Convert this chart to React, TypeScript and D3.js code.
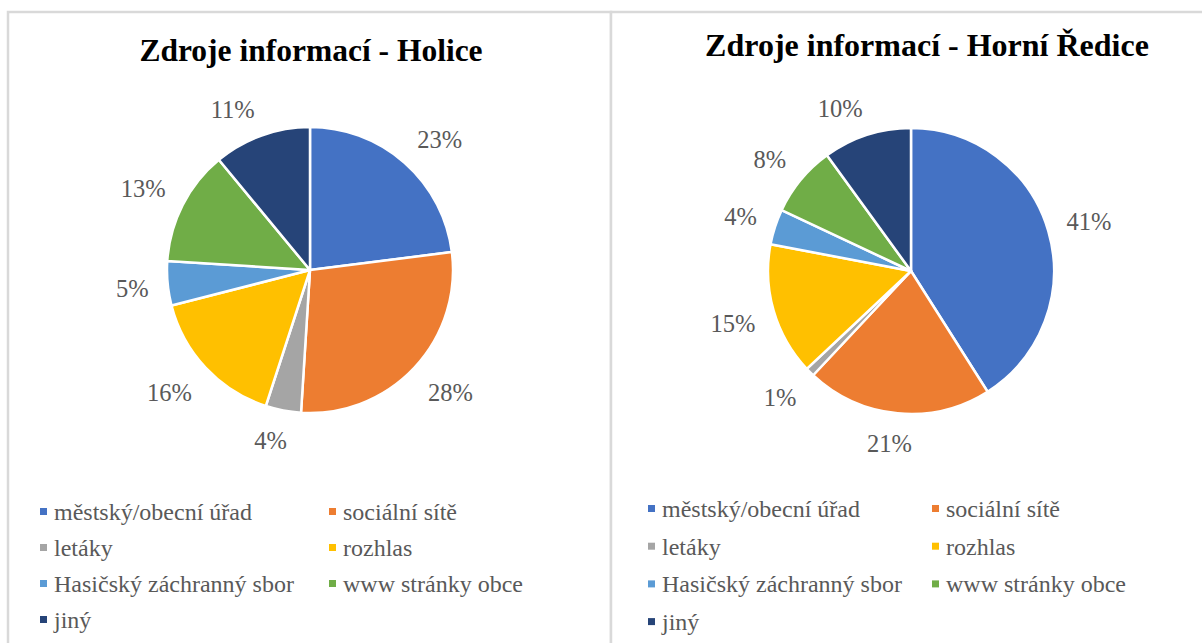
import * as d3 from 'd3'
import * as React from 'react'

// Categories shared by both charts
const categories: string[] = [
  'městský/obecní úřad',
  'sociální sítě',
  'letáky',
  'rozhlas',
  'Hasičský záchranný sbor',
  'www stránky obce',
  'jiný',
]

// Series values (percent)
const holiceValues: number[] = [23, 28, 4, 16, 5, 13, 11]
const horniRediceValues: number[] = [41, 21, 1, 15, 4, 8, 10]

const holiceTitle = 'Zdroje informací - Holice'
const horniRediceTitle = 'Zdroje informací - Horní Ředice'

const colors: string[] = ['#4472C4', '#ED7D31', '#A5A5A5', '#FFC000', '#5B9BD5', '#70AD47', '#264478']

const serif = "'Liberation Serif', 'DejaVu Serif', serif"
const textGrey = '#595959'

type PieProps = {
  title: string
  titleSize: number
  values: number[]
  titleX: number
  titleY: number
  cx: number
  cy: number
  r: number
  legendX: number
  legendCol2: number
  legendY: number
  legendStep: number
}

const labelSize = 24.5
const clamp = (v: number) => Math.max(-1, Math.min(1, v))

const PieChart = (props: PieProps) => {
  const { title, titleSize, values, titleX, titleY, cx, cy, r, legendX, legendCol2, legendY, legendStep } = props

  const pie = d3.pie<number>().sort(null).value(d => d)
  const arcs = pie(values)
  const arc = d3.arc<d3.PieArcDatum<number>>().innerRadius(0).outerRadius(r)
  const fmt = d3.format('.0%')

  return <g style={{ fontFamily: serif }}>
    <text x={titleX} y={titleY} textAnchor='middle' style={{ fontFamily: serif, fontWeight: 'bold', fontSize: titleSize }} fill='#000'>{title}</text>
    <g transform={'translate(' + cx + ',' + cy + ')'}>
      {arcs.map((a, i) =>
        <path key={i} d={arc(a)!} fill={colors[i]} stroke='#fff' strokeWidth={2.5} strokeLinejoin='round' />
      )}
      {arcs.map((a, i) => {
        // outside-end label: box corner sits just off the rim at the slice's mid angle
        const label = fmt(a.value / 100)
        const w = labelSize * (0.5 * (label.length - 1) + 0.833)
        const h = 20
        const mid = (a.startAngle + a.endAngle) / 2
        const s = Math.sin(mid)
        const c = Math.cos(mid)
        const x = s * (r + 19) + clamp(3 * s) * w / 2
        const y = -c * (r + 19) - clamp(2 * c) * h / 2
        return <text key={i} x={x} y={y + 10} textAnchor='middle' style={{ fontFamily: serif, fontSize: labelSize }} fill={textGrey}>
          {label}
        </text>
      })}
    </g>
    {categories.map((c, i) => {
      const col = i % 2
      const row = Math.floor(i / 2)
      const x = col === 0 ? legendX : legendCol2
      const y = legendY + row * legendStep
      return <g key={c}>
        <rect x={x} y={y - 4} width={7} height={7} fill={colors[i]} />
        <text x={x + 14} y={y + 8} style={{ fontFamily: serif, fontSize: 24 }} fill={textGrey}>{c}</text>
      </g>
    })}
  </g>
}

export default function App() {
  return <svg width={1202} height={643} style={{ position: 'absolute', left: 0, top: 0, background: '#fff' }}>
    <rect x={8} y={12} width={603} height={700} fill='#fff' stroke='#d9d9d9' strokeWidth={2.5} />
    <rect x={611} y={12} width={640} height={700} fill='#fff' stroke='#d9d9d9' strokeWidth={2.5} />
    <PieChart title={holiceTitle} titleSize={31.5} values={holiceValues} titleX={311} titleY={61}
      cx={310} cy={270} r={143} legendX={40} legendCol2={329} legendY={512} legendStep={36} />
    <PieChart title={horniRediceTitle} titleSize={32} values={horniRediceValues} titleX={927} titleY={56}
      cx={911} cy={271} r={143} legendX={648} legendCol2={932} legendY={509} legendStep={37.7} />
  </svg>
}
